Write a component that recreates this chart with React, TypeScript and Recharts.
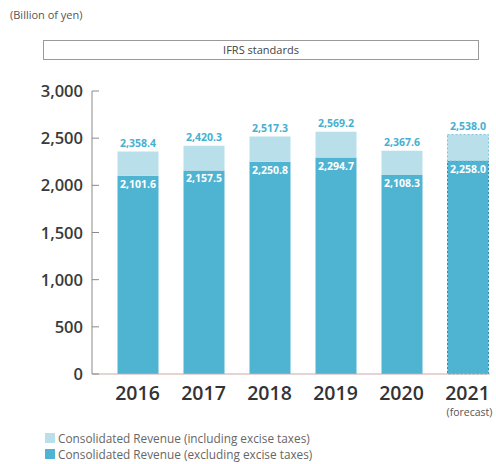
import React from 'react';
import { BarChart, Bar, XAxis, YAxis, Cell } from 'recharts';

const years = ['2016', '2017', '2018', '2019', '2020', '2021'];
const revenueInclTax = [2358.4, 2420.3, 2517.3, 2569.2, 2367.6, 2538.0];
const revenueExclTax = [2101.6, 2157.5, 2250.8, 2294.7, 2108.3, 2258.0];
const yTicks = [0, 500, 1000, 1500, 2000, 2500, 3000];
const forecastYear = '2021';

const DARK = '#4fb3d2';
const LIGHT = '#b9e0ea';
const FONT = '"Open Sans", "Noto Sans", sans-serif';

const chartData = years.map((year, i) => ({
  year,
  excl: revenueExclTax[i],
  tax: Math.round((revenueInclTax[i] - revenueExclTax[i]) * 10) / 10,
}));

const fmt = (v: number) =>
  v.toLocaleString('en-US', { minimumFractionDigits: 1, maximumFractionDigits: 1 });

const YTick = ({ x, y, payload }: any) => (
  <g>
    <text x={x} y={y} dy={6} textAnchor="end" fill="#3a3a3a" fontSize={16.5} fontWeight={600} fontFamily={FONT}>
      {payload.value.toLocaleString('en-US')}
    </text>
    <line x1={x + 9} x2={x + 16} y1={y} y2={y} stroke="#8a8a8a" strokeWidth={1} />
  </g>
);

const XTick = ({ x, y, payload }: any) => (
  <g>
    <text x={x} y={y} dy={18} textAnchor="middle" fill="#333" fontSize={19.5} fontWeight={600} fontFamily={FONT}>
      {payload.value}
    </text>
    {payload.value === forecastYear && (
      <text x={x + 2} y={y} dy={34} textAnchor="middle" fill="#555" fontSize={10.5} fontFamily={FONT}>
        (forecast)
      </text>
    )}
  </g>
);

const topLabel = (props: any) => {
  const { x, y, width, index } = props;
  return (
    <text x={x + width / 2} y={y - 5} textAnchor="middle" fill="#45b0cf" fontSize={10.5} fontWeight={700} fontFamily={FONT}>
      {fmt(revenueInclTax[index])}
    </text>
  );
};

const innerLabel = (props: any) => {
  const { x, y, width, index } = props;
  return (
    <text x={x + width / 2} y={y + 12} textAnchor="middle" fill="#ffffff" fontSize={10.5} fontWeight={700} fontFamily={FONT}>
      {fmt(revenueExclTax[index])}
    </text>
  );
};

export default function App() {
  return (
    <div style={{ position: 'absolute', left: 0, top: 0, width: 496, height: 464, background: '#fff', fontFamily: FONT }}>
      <div style={{ position: 'absolute', left: 10, top: 7, fontSize: 11, color: '#555' }}>(Billion of yen)</div>
      <div
        style={{
          position: 'absolute',
          left: 43,
          top: 40,
          width: 436,
          height: 20,
          border: '1px solid #9a9a9a',
          boxSizing: 'border-box',
          fontSize: 11,
          color: '#444',
          textAlign: 'center',
          lineHeight: '18px',
        }}
      >
        IFRS standards
      </div>
      <BarChart
        width={496}
        height={464}
        data={chartData}
        margin={{ top: 91, right: 6, left: 0, bottom: 0 }}
      >
        <YAxis
          width={92}
          domain={[0, 3000]}
          ticks={yTicks}
          tickLine={false}
          tickSize={0}
          tickMargin={9}
          axisLine={{ stroke: '#8a8a8a' }}
          tick={<YTick />}
          interval={0}
        />
        <XAxis
          dataKey="year"
          height={90}
          padding={{ left: 12.5, right: -10.5 }}
          tickLine={false}
          axisLine={{ stroke: '#c9a9a9' }}
          tick={<XTick />}
          interval={0}
        />
        <Bar dataKey="excl" stackId="rev" fill={DARK} barSize={41} isAnimationActive={false} label={innerLabel}>
          {chartData.map((d, i) => (
            <Cell
              key={`excl-${i}`}
              fill={DARK}
              stroke={d.year === forecastYear ? '#2f8fb0' : 'none'}
              strokeDasharray={d.year === forecastYear ? '2 2' : undefined}
            />
          ))}
        </Bar>
        <Bar dataKey="tax" stackId="rev" fill={LIGHT} barSize={41} isAnimationActive={false} label={topLabel}>
          {chartData.map((d, i) => (
            <Cell
              key={`tax-${i}`}
              fill={LIGHT}
              stroke={d.year === forecastYear ? '#7fc3d6' : 'none'}
              strokeDasharray={d.year === forecastYear ? '2 2' : undefined}
            />
          ))}
        </Bar>
      </BarChart>
      <div style={{ position: 'absolute', left: 45, top: 430, fontSize: 11.8, color: '#666', lineHeight: '16px' }}>
        <div style={{ display: 'flex', alignItems: 'center' }}>
          <span style={{ display: 'inline-block', width: 10, height: 10, background: LIGHT, marginRight: 3 }} />
          Consolidated Revenue (including excise taxes)
        </div>
        <div style={{ display: 'flex', alignItems: 'center' }}>
          <span style={{ display: 'inline-block', width: 10, height: 10, background: DARK, marginRight: 3 }} />
          Consolidated Revenue (excluding excise taxes)
        </div>
      </div>
    </div>
  );
}
